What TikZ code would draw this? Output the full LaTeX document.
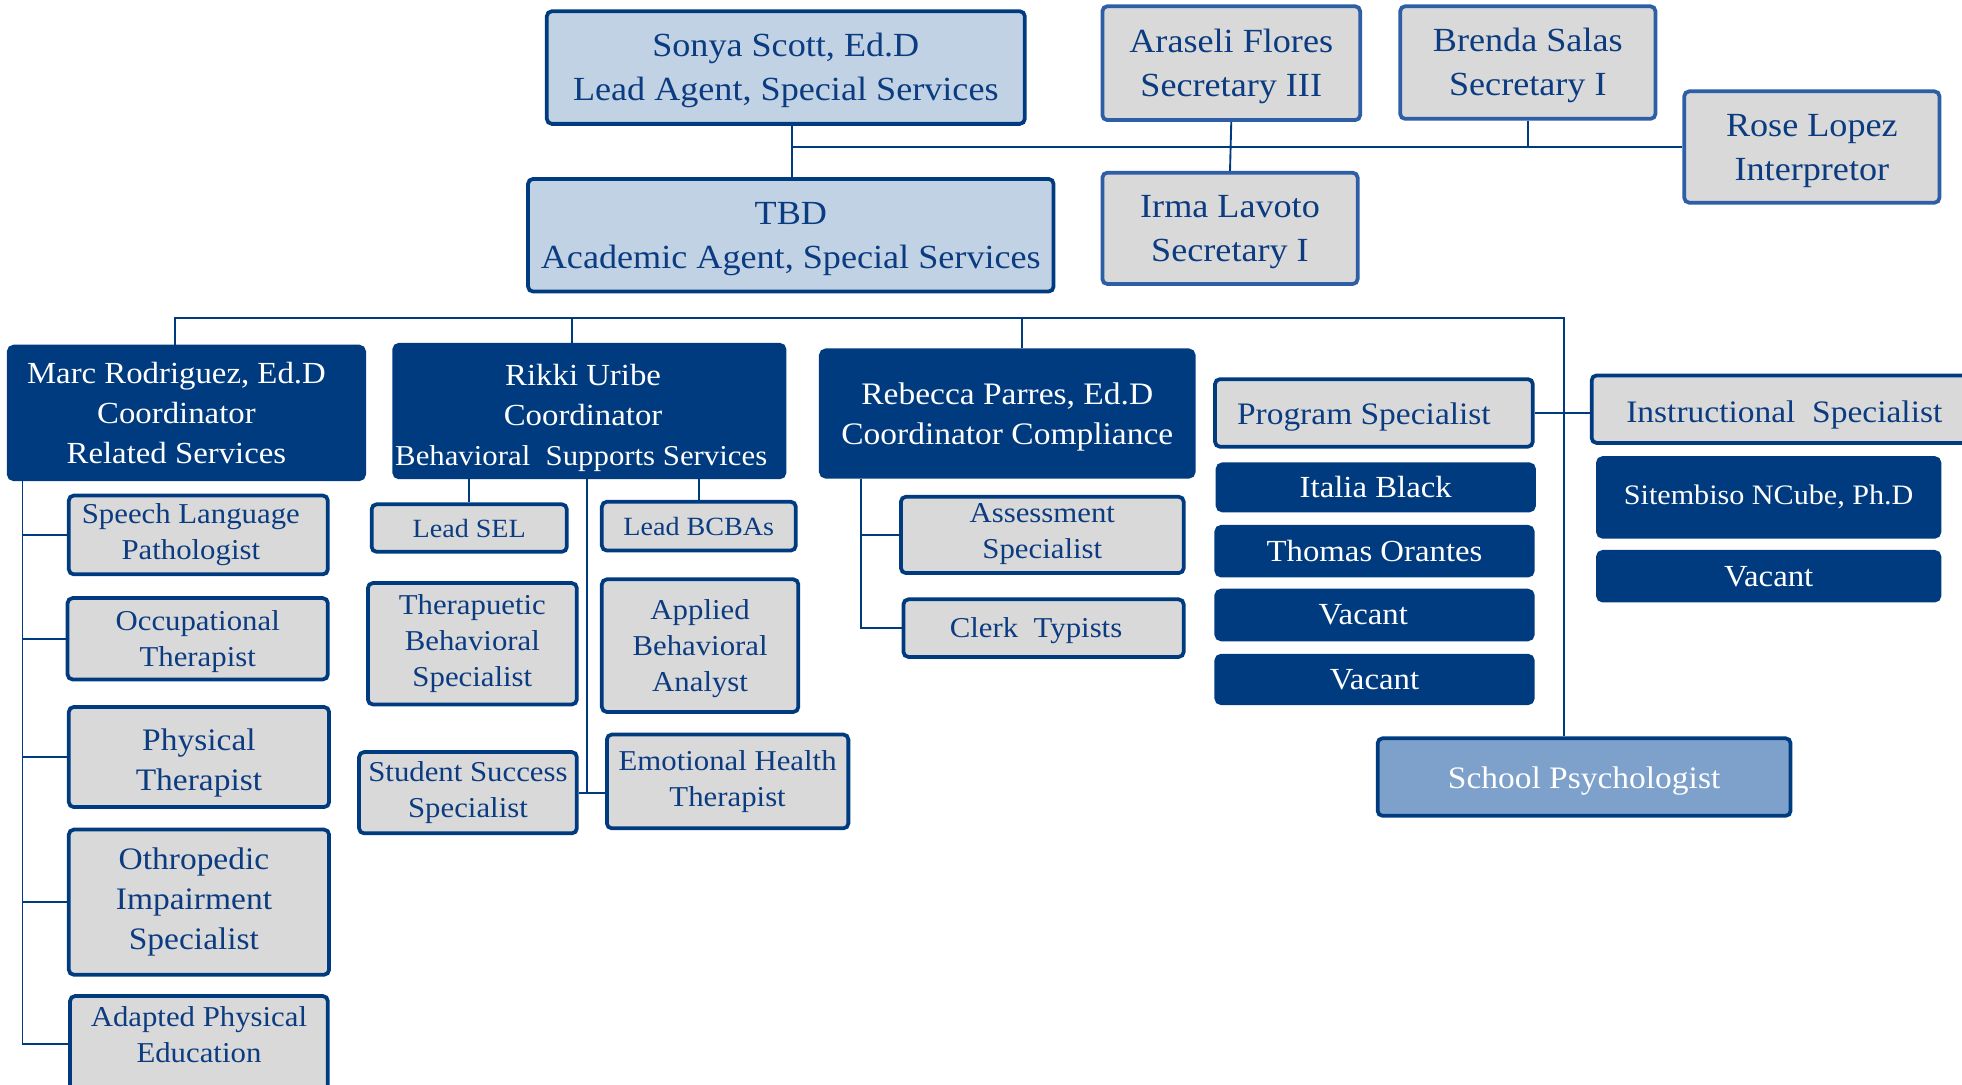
\documentclass[tikz,border=0pt]{standalone}
\usepackage{fontspec}
\setmainfont{Liberation Serif}[FakeStretch=1.07]
\definecolor{dkblue}{HTML}{003B7F}
\definecolor{midblue}{HTML}{2E5EA5}
\definecolor{ltblue}{HTML}{C1D2E4}
\definecolor{grayfill}{HTML}{D9D9D9}
\definecolor{psyfill}{HTML}{7DA1CB}
\definecolor{txtblue}{HTML}{0B3B80}
\newcommand\fs[2]{\fontsize{#1}{#2}\selectfont}
% extra height (#1) above and extra depth (#2) below a centred block of lines
\newcommand\padbox[3]{\raisebox{0pt}[\dimexpr\height+#1\relax][\dimexpr\depth+#2\relax]{\begin{tabular}{@{}c@{}}#3\end{tabular}}}
\tikzset{
  boxbase/.style={rounded corners=4pt, line width=3pt, align=center, inner sep=0pt},
  bluebox/.style={boxbase, draw=dkblue, fill=ltblue, text=txtblue},
  secbox/.style={boxbase, draw=midblue, fill=grayfill, text=txtblue},
  graybox/.style={boxbase, draw=dkblue, fill=grayfill, text=txtblue},
  darkbox/.style={boxbase, draw=dkblue, fill=dkblue, text=white},
  psybox/.style={boxbase, draw=dkblue, fill=psyfill, text=white},
  conn/.style={draw=dkblue, line width=1.5pt},
  sz/.style n args={2}{minimum width=#1pt, minimum height=#2pt}
}
\begin{document}
\begin{tikzpicture}[x=1pt,y=-1pt]
\clip (0,0) rectangle (1568,867);
\fill[white] (0,0) rectangle (1568,867);

% top level
\node[bluebox, sz={382}{90}, font={\fs{27}{35}}] (sonya) at (628,54) {\padbox{4pt}{0pt}{Sonya Scott, Ed.D\\Lead Agent, Special Services}};
\node[bluebox, sz={420}{90}, font={\fs{27}{35}}] (tbd) at (632,188) {\padbox{4pt}{0pt}{TBD\\Academic Agent, Special Services}};
\node[secbox, sz={206}{91}, font={\fs{27}{35}}] (araseli) at (984,50.5) {\padbox{4pt}{0pt}{Araseli Flores\\Secretary III}};
\node[secbox, sz={204}{90}, font={\fs{27}{35}}] (brenda) at (1221,50) {\padbox{4pt}{0pt}{Brenda Salas\\Secretary I}};
\node[secbox, sz={204}{89}, font={\fs{27}{35}}] (rose) at (1448,117.5) {\padbox{4pt}{0pt}{Rose Lopez\\Interpretor}};
\node[secbox, sz={204}{89}, font={\fs{27}{35}}] (irma) at (983,182.5) {\padbox{4pt}{0pt}{Irma Lavoto\\Secretary I}};

% coordinators
\node[darkbox, sz={284}{106}, font={\fs{24.5}{32}}] (marc) at (149,330) {\hspace*{-16pt}Marc Rodriguez, Ed.D\\\hspace*{-16pt}Coordinator\\\hspace*{-16pt}Related Services};
\node[darkbox, sz={312}{103}, font={\fs{24.5}{32}}] (rikki) at (471,328.5) {\padbox{10pt}{0pt}{\hspace*{-10pt}Rikki Uribe\\\hspace*{-10pt}Coordinator\\{\fs{23}{30}\hspace*{-13pt}Behavioral\ \ Supports Services}}};
\node[darkbox, sz={298}{101}, font={\fs{25}{32}}] (rebecca) at (805,330.5) {\padbox{4pt}{0pt}{Rebecca Parres, Ed.D\\Coordinator Compliance}};
\node[graybox, sz={254}{54}, font={\fs{25}{32}}] (prog) at (1098,330) {\padbox{5pt}{0pt}{\hspace*{-16pt}Program Specialist}};
\node[graybox, sz={308}{54}, font={\fs{25}{32}}] (instr) at (1426,327) {\padbox{8pt}{0pt}{Instructional\ \ Specialist}};

% program specialist column
\node[darkbox, sz={253}{37}, font={\fs{24.5}{30}}] (italia) at (1099.5,389.5) {Italia Black};
\node[darkbox, sz={253}{39}, font={\fs{24.5}{30}}] (thomas) at (1098.5,440.5) {Thomas Orantes};
\node[darkbox, sz={253}{39}, font={\fs{24.5}{30}}] (vacA) at (1098.5,491.5) {\hspace*{-18pt}Vacant};
\node[darkbox, sz={253}{38}, font={\fs{24.5}{30}}] (vacB) at (1098.5,543) {Vacant};

% instructional column
\node[darkbox, sz={273}{63}, font={\fs{22.5}{30}}] (sitem) at (1413.5,397.5) {Sitembiso NCube, Ph.D};
\node[darkbox, sz={273}{39}, font={\fs{24.5}{30}}] (vacC) at (1413.5,460.5) {Vacant};

\node[psybox, sz={330}{62}, font={\fs{25}{32}}] (psych) at (1266,621) {\padbox{5pt}{0pt}{School Psychologist}};

% related services
\node[graybox, sz={207}{63}, font={\fs{23}{29}}] (speech) at (158.5,427.5) {\hspace*{-12pt}Speech Language\\\hspace*{-12pt}Pathologist};
\node[graybox, sz={208}{65}, font={\fs{23}{29}}] (occ) at (158,510.5) {\padbox{4pt}{0pt}{Occupational\\Therapist}};
\node[graybox, sz={208}{80}, font={\fs{25}{32}}] (phys) at (159,605) {\padbox{8pt}{0pt}{Physical\\Therapist}};
\node[graybox, sz={208}{116}, font={\fs{25}{32}}] (ortho) at (159,721) {\hspace*{-8pt}Othropedic\\\hspace*{-8pt}Impairment\\\hspace*{-8pt}Specialist};
\node[graybox, sz={206}{76}, font={\fs{23}{29}}] (ape) at (159,834) {\padbox{0pt}{10pt}{Adapted Physical\\Education}};

% behavioral supports
\node[graybox, sz={156}{38}, font={\fs{21}{28}}] (leadsel) at (375,422) {Lead SEL};
\node[graybox, sz={155}{39}, font={\fs{21}{28}}] (leadbcba) at (558.5,420.5) {Lead BCBAs};
\node[graybox, sz={167}{97}, font={\fs{23}{29}}] (thera) at (377.5,514.5) {Therapuetic\\Behavioral\\Specialist};
\node[graybox, sz={157}{106}, font={\fs{23}{29}}] (aba) at (559.5,516) {\padbox{4pt}{0pt}{Applied\\Behavioral\\Analyst}};
\node[graybox, sz={174}{65}, font={\fs{23}{29}}] (ss) at (374,633.5) {Student Success\\Specialist};
\node[graybox, sz={193}{75}, font={\fs{23}{29}}] (emo) at (581.5,624.5) {Emotional Health\\Therapist};

% compliance
\node[graybox, sz={226}{61}, font={\fs{23}{29}}] (assess) at (833,427.5) {\padbox{0pt}{3pt}{Assessment\\Specialist}};
\node[graybox, sz={224}{46}, font={\fs{23}{29}}] (clerk) at (834,502) {\padbox{4pt}{0pt}{\hspace*{-12pt}Clerk\ \ Typists}};

% ---- connectors ----
\coordinate (hubx) at (633,0);
\draw[conn] (sonya.south -| hubx) -- (tbd.north -| hubx);
\draw[conn] (hubx |- rose.west) -- (rose.west);
\draw[conn] (araseli.south) -- (irma.north);
\draw[conn] (brenda.south) -- (brenda.south |- rose.west);

\coordinate (busL) at (140,254);
\coordinate (busR) at (1250,254);
\draw[conn] (busL |- marc.north) -- (busL) -- (busR) -- (busR |- psych.north);
\draw[conn] (457,254) -- (457,0 |- rikki.north);
\draw[conn] (817,254) -- (817,0 |- rebecca.north);
\draw[conn] (prog.east) -- (prog.east -| instr.west);

% related services bus
\coordinate (lx) at (18,0);
\draw[conn] (lx |- marc.south) |- (ape.west);
\foreach \n in {speech,occ,phys,ortho}{
  \draw[conn] (lx |- \n.west) -- (\n.west);
}

% behavioral supports
\draw[conn] (rikki.south -| leadsel.north) -- (leadsel.north);
\draw[conn] (rikki.south -| leadbcba.north) -- (leadbcba.north);
\coordinate (cx) at (469,0);
\draw[conn] (cx |- rikki.south) -- (cx |- ss.east);
\draw[conn] (ss.east) -- (ss.east -| emo.west);

% compliance
\coordinate (rx) at (688,0);
\draw[conn] (rx |- rebecca.south) |- (clerk.west);
\draw[conn] (rx |- assess.west) -- (assess.west);
\end{tikzpicture}
\end{document}
